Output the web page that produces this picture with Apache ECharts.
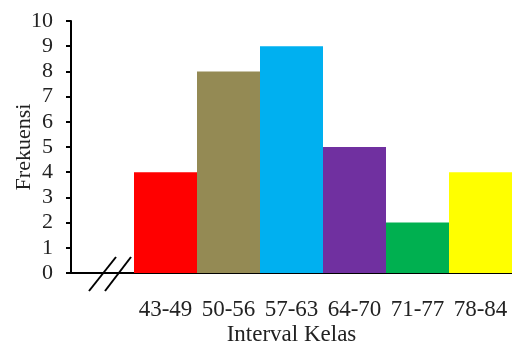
<!DOCTYPE html>
<html>
<head>
<meta charset="utf-8">
<script src="https://cdn.jsdelivr.net/npm/echarts@6/dist/echarts.min.js"></script>
<style>html,body{margin:0;padding:0;background:#fff}#c{width:512px;height:352px}</style>
</head>
<body>
<div id="c"></div>
<script>
var categories = ['43-49', '50-56', '57-63', '64-70', '71-77', '78-84'];
var frequencies = [4, 8, 9, 5, 2, 4];
var barColors = ['#FF0000', '#948A54', '#00B0F0', '#7030A0', '#00B050', '#FFFF00'];
var yTicks = [0, 1, 2, 3, 4, 5, 6, 7, 8, 9, 10];

var font = 'Liberation Serif, Times New Roman, serif';
var chart = echarts.init(document.getElementById('c'));
var xCats = [''].concat(categories);
var barData = ['-'].concat(frequencies.map(function (v, i) {
  return { value: v, itemStyle: { color: barColors[i] } };
}));

chart.setOption({
  animation: false,
  grid: { left: 71, right: 0, top: 21, bottom: 79, containLabel: false, outerBoundsMode: 'none' },
  xAxis: {
    type: 'category',
    data: xCats,
    name: 'Interval Kelas',
    nameLocation: 'middle',
    nameGap: 50,
    nameMoveOverlap: false,
    nameTextStyle: { fontFamily: font, fontSize: 23, color: '#222' },
    axisLine: { lineStyle: { color: '#000', width: 2 } },
    axisTick: { show: false },
    axisLabel: { fontFamily: font, fontSize: 23, color: '#222', margin: 25, interval: 0 }
  },
  yAxis: {
    type: 'value',
    min: yTicks[0],
    max: yTicks[yTicks.length - 1],
    interval: 1,
    name: 'Frekuensi',
    nameLocation: 'middle',
    nameGap: 36,
    nameMoveOverlap: false,
    nameTextStyle: { fontFamily: font, fontSize: 22, color: '#222' },
    axisLine: { show: true, lineStyle: { color: '#000', width: 2 } },
    axisTick: { show: true, length: 5, lineStyle: { color: '#000', width: 2 } },
    axisLabel: { fontFamily: font, fontSize: 22, color: '#222', margin: 18 },
    splitLine: { show: false }
  },
  series: [{
    type: 'bar',
    data: barData,
    barWidth: '100%',
    barCategoryGap: 0
  }],
  graphic: [
    { type: 'line', shape: { x1: 89, y1: 291, x2: 116, y2: 257 }, style: { stroke: '#000', lineWidth: 2 } },
    { type: 'line', shape: { x1: 105, y1: 291, x2: 131, y2: 257 }, style: { stroke: '#000', lineWidth: 2 } }
  ]
});
</script>
</body>
</html>
